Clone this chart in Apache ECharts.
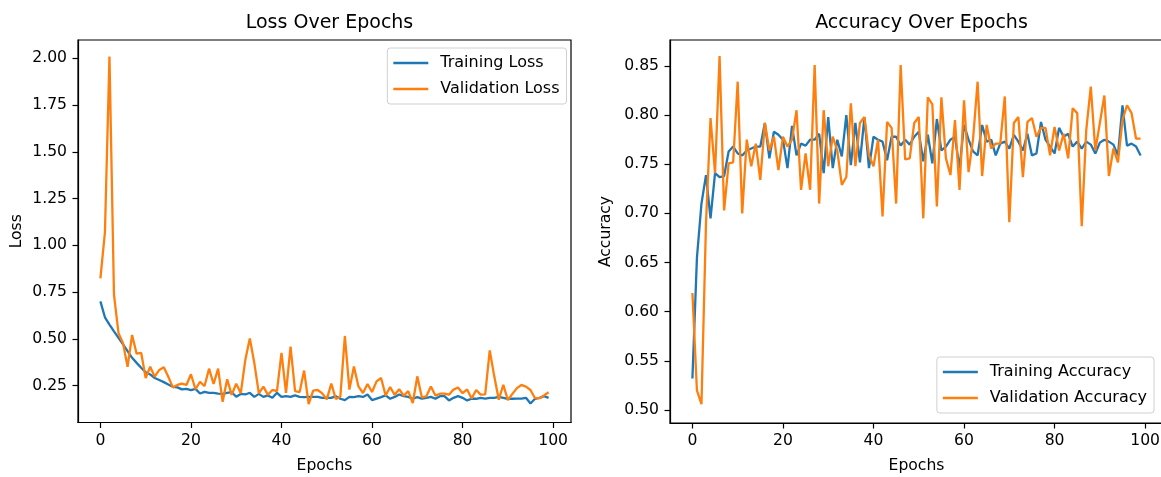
<!DOCTYPE html>
<html>
<head>
<meta charset="utf-8">
<script src="https://cdn.jsdelivr.net/npm/echarts@6/dist/echarts.min.js"></script>
<style>
html,body{margin:0;padding:0;background:#fff;}
#c{width:1161px;height:477px;}
</style>
</head>
<body>
<div id="c"></div>
<script>
const trainingLoss = [0.70,0.615,0.576,0.54,0.505,0.47,0.434,0.398,0.371,0.345,
0.321,0.309,0.29,0.279,0.268,0.255,0.243,0.24,0.229,0.232,
0.225,0.232,0.207,0.216,0.211,0.211,0.207,0.205,0.211,0.214,
0.19,0.205,0.202,0.211,0.189,0.205,0.189,0.197,0.184,0.211,
0.189,0.193,0.189,0.197,0.189,0.188,0.189,0.189,0.189,0.184,
0.184,0.184,0.193,0.179,0.172,0.189,0.188,0.193,0.189,0.202,
0.172,0.18,0.188,0.197,0.179,0.189,0.202,0.193,0.189,0.179,
0.188,0.18,0.184,0.189,0.179,0.193,0.193,0.17,0.184,0.193,
0.184,0.17,0.179,0.179,0.184,0.18,0.184,0.184,0.189,0.184,
0.179,0.179,0.18,0.18,0.184,0.154,0.179,0.184,0.193,0.184];
const validationLoss = [0.823,1.07,2.01,0.735,0.53,0.476,0.35,0.52,0.42,0.425,
0.29,0.35,0.297,0.333,0.347,0.297,0.24,0.253,0.26,0.253,
0.31,0.23,0.27,0.247,0.34,0.258,0.34,0.163,0.283,0.2,
0.26,0.208,0.386,0.502,0.37,0.208,0.244,0.2,0.226,0.22,
0.425,0.21,0.458,0.22,0.215,0.33,0.15,0.222,0.226,0.208,
0.176,0.26,0.178,0.19,0.515,0.228,0.352,0.245,0.21,0.258,
0.215,0.272,0.29,0.196,0.242,0.2,0.23,0.195,0.22,0.156,
0.299,0.187,0.192,0.245,0.196,0.206,0.207,0.201,0.228,0.239,
0.209,0.229,0.18,0.226,0.201,0.203,0.438,0.299,0.174,0.254,
0.172,0.205,0.236,0.253,0.244,0.226,0.182,0.182,0.197,0.214];
const trainingAcc = [0.532,0.655,0.71,0.739,0.695,0.741,0.737,0.738,0.763,0.768,
0.761,0.759,0.764,0.766,0.768,0.768,0.792,0.756,0.783,0.78,
0.775,0.746,0.789,0.759,0.771,0.769,0.775,0.775,0.781,0.741,
0.798,0.746,0.775,0.758,0.80,0.749,0.792,0.752,0.798,0.746,
0.778,0.775,0.773,0.754,0.778,0.778,0.769,0.775,0.770,0.778,
0.783,0.753,0.780,0.751,0.796,0.764,0.768,0.775,0.778,0.746,
0.790,0.775,0.763,0.759,0.790,0.773,0.775,0.759,0.771,0.773,
0.766,0.780,0.773,0.764,0.781,0.759,0.761,0.793,0.775,0.768,
0.761,0.787,0.778,0.781,0.768,0.773,0.766,0.773,0.770,0.761,
0.772,0.775,0.773,0.770,0.759,0.810,0.769,0.771,0.768,0.759];
const validationAcc = [0.619,0.52,0.506,0.69,0.797,0.741,0.86,0.703,0.751,0.752,
0.834,0.70,0.775,0.748,0.771,0.734,0.792,0.764,0.778,0.744,
0.778,0.768,0.775,0.805,0.724,0.761,0.724,0.851,0.71,0.805,
0.748,0.778,0.764,0.729,0.737,0.812,0.748,0.792,0.798,0.759,
0.748,0.775,0.697,0.793,0.787,0.71,0.851,0.755,0.756,0.792,
0.798,0.695,0.818,0.811,0.707,0.818,0.756,0.739,0.795,0.724,
0.815,0.742,0.776,0.834,0.738,0.790,0.766,0.771,0.771,0.819,
0.691,0.792,0.798,0.737,0.793,0.797,0.778,0.787,0.787,0.759,
0.788,0.764,0.781,0.756,0.807,0.802,0.687,0.785,0.829,0.764,
0.792,0.820,0.738,0.766,0.752,0.795,0.810,0.802,0.776,0.776];
const xTicks = [0,20,40,60,80,100];
const lossTicks = [0.25,0.50,0.75,1.00,1.25,1.50,1.75,2.00];
const accTicks = [0.50,0.55,0.60,0.65,0.70,0.75,0.80,0.85];

const FONT = 'DejaVu Sans';
const FS = 15.6;
const LFS = 16;
const BLUE = '#1f77b4', ORANGE = '#ff7f0e';
const pairs = arr => arr.map((v, i) => [i, v]);

function xAxisCfg(gi) {
  return {
    type: 'value', gridIndex: gi, min: -4.95, max: 103.95,
    name: 'Epochs', nameLocation: 'middle', nameGap: 35,
    nameTextStyle: {fontFamily: FONT, fontSize: FS, color: '#000'},
    axisLine: {show: true, onZero: false, lineStyle: {color: '#000', width: 1.2}},
    axisTick: {show: true, length: 5.5, customValues: xTicks, lineStyle: {color: '#000', width: 1.2}},
    axisLabel: {customValues: xTicks, margin: 10, fontFamily: FONT, fontSize: FS, color: '#000'},
    splitLine: {show: false}
  };
}
function yAxisCfg(gi, min, max, ticks, name, gap) {
  return {
    type: 'value', gridIndex: gi, min: min, max: max,
    name: name, nameLocation: 'middle', nameGap: gap, nameRotate: 90,
    nameTextStyle: {fontFamily: FONT, fontSize: FS, color: '#000'},
    axisLine: {show: true, onZero: false, lineStyle: {color: '#000', width: 1.2}},
    axisTick: {show: true, length: 5.5, customValues: ticks, lineStyle: {color: '#000', width: 1.2}},
    axisLabel: {customValues: ticks, margin: 11, fontFamily: FONT, fontSize: FS, color: '#000',
      formatter: v => v.toFixed(2)},
    splitLine: {show: false}
  };
}
function legendCfg(right, top, names) {
  return {
    data: names, orient: 'vertical', right: right, top: top,
    icon: 'rect', itemWidth: 35, itemHeight: 2.3, itemGap: 8,
    padding: [6, 7, 6, 6],
    borderColor: '#d0d0d0', borderWidth: 1, borderRadius: 3, backgroundColor: '#fff',
    textStyle: {fontFamily: FONT, fontSize: LFS, color: '#000', lineHeight: 18, padding: [0, 0, 0, 7]}
  };
}
function lineSeries(name, data, color, xi, yi) {
  return {
    name: name, type: 'line', xAxisIndex: xi, yAxisIndex: yi, data: pairs(data),
    showSymbol: false, symbol: 'none', color: color,
    lineStyle: {color: color, width: 2.3}, emphasis: {disabled: true}
  };
}

const chart = echarts.init(document.getElementById('c'), null, {renderer: 'canvas'});
chart.setOption({
  animation: false,
  backgroundColor: '#fff',
  title: [
    {text: 'Loss Over Epochs', left: 324.5, top: 9, textAlign: 'center',
      textStyle: {fontFamily: FONT, fontSize: 19, fontWeight: 'normal', color: '#000'}},
    {text: 'Accuracy Over Epochs', left: 916.5, top: 9, textAlign: 'center',
      textStyle: {fontFamily: FONT, fontSize: 19, fontWeight: 'normal', color: '#000'}}
  ],
  grid: [
    {left: 78, top: 40, width: 493, height: 382.5, outerBoundsMode: 'none', containLabel: false,
      show: true, borderColor: '#000', borderWidth: 1.2, backgroundColor: 'transparent'},
    {left: 670, top: 40, width: 493, height: 383, outerBoundsMode: 'none', containLabel: false,
      show: true, borderColor: '#000', borderWidth: 1.2, backgroundColor: 'transparent'}
  ],
  xAxis: [xAxisCfg(0), xAxisCfg(1)],
  yAxis: [
    yAxisCfg(0, 0.052, 2.0986, lossTicks, 'Loss', 53),
    yAxisCfg(1, 0.4868, 0.8764, accTicks, 'Accuracy', 56)
  ],
  legend: [
    legendCfg(1161 - 566.5, 48, ['Training Loss', 'Validation Loss']),
    legendCfg(1161 - 1154, 357, ['Training Accuracy', 'Validation Accuracy'])
  ],
  series: [
    lineSeries('Training Loss', trainingLoss, BLUE, 0, 0),
    lineSeries('Validation Loss', validationLoss, ORANGE, 0, 0),
    lineSeries('Training Accuracy', trainingAcc, BLUE, 1, 1),
    lineSeries('Validation Accuracy', validationAcc, ORANGE, 1, 1)
  ]
});
</script>
</body>
</html>
